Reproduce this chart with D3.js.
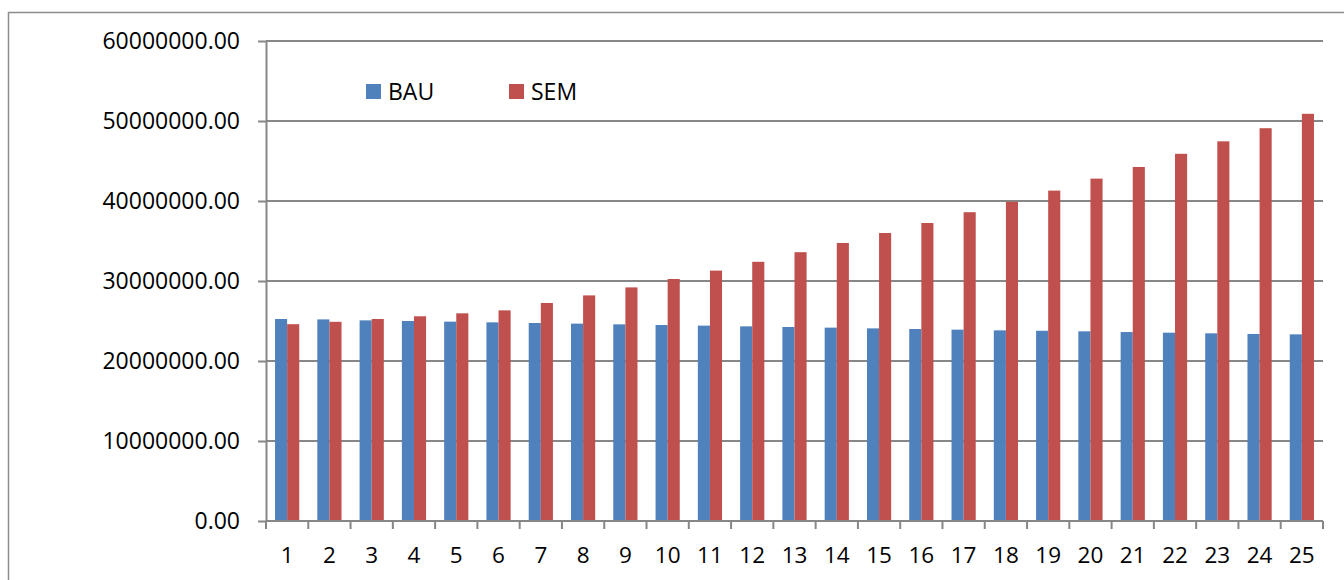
<!DOCTYPE html>
<html>
<head>
<meta charset="utf-8">
<script src="https://cdn.jsdelivr.net/npm/d3@7"></script>
<style>
  html, body { margin: 0; padding: 0; background: #fff; }
  svg { display: block; }
  text { font-family: "Open Sans", "Liberation Sans", sans-serif; fill: #000; }
</style>
</head>
<body>
<svg id="chart" width="1344" height="580"></svg>
<script>
const categories = ["1","2","3","4","5","6","7","8","9","10","11","12","13","14","15","16","17","18","19","20","21","22","23","24","25"];
const seriesNames = ["BAU", "SEM"];
const bauValues = [25250000, 25200000, 25080000, 25000000, 24920000, 24830000, 24750000, 24670000, 24580000, 24500000,
                   24420000, 24330000, 24250000, 24170000, 24080000, 24000000, 23920000, 23830000, 23780000, 23710000,
                   23620000, 23540000, 23460000, 23380000, 23330000];
const semValues = [24600000, 24900000, 25250000, 25590000, 25960000, 26330000, 27250000, 28200000, 29200000, 30250000,
                   31300000, 32400000, 33600000, 34750000, 36000000, 37250000, 38600000, 39900000, 41300000, 42800000,
                   44250000, 45900000, 47460000, 49100000, 50900000];
const yTicks = [0, 10000000, 20000000, 30000000, 40000000, 50000000, 60000000];
const colors = ["#4F81BD", "#C0504D"];

const svg = d3.select("#chart");
const plotLeft = 266, plotRight = 1323, plotTop = 41, plotBottom = 521;

// outer chart border
svg.append("path")
  .attr("d", `M8.5,${590} L8.5,12.5 L1344,12.5`)
  .attr("fill", "none").attr("stroke", "#8c8c8c").attr("stroke-width", 1.5);

const x0 = d3.scaleBand().domain(categories).range([plotLeft, plotRight]).paddingInner(0).paddingOuter(0);
const x1 = d3.scaleBand().domain(seriesNames).range([0, x0.bandwidth()]).paddingInner(0).paddingOuter(0.747);
const y = d3.scaleLinear().domain([0, 60000000]).range([plotBottom, plotTop]);

// gridlines
svg.append("g").selectAll("line").data(yTicks.filter(d => d > 0)).join("line")
  .attr("x1", plotLeft).attr("x2", plotRight)
  .attr("y1", d => y(d)).attr("y2", d => y(d))
  .attr("stroke", "#878787").attr("stroke-width", 2);

// bars
const data = categories.map((c, i) => ({ c, vals: [bauValues[i], semValues[i]] }));
const groups = svg.append("g").selectAll("g").data(data).join("g")
  .attr("transform", d => `translate(${x0(d.c)},0)`);
groups.selectAll("rect").data(d => d.vals.map((v, j) => ({ name: seriesNames[j], v, j }))).join("rect")
  .attr("x", d => x1(d.name))
  .attr("width", x1.bandwidth())
  .attr("y", d => y(d.v))
  .attr("height", d => y(0) - y(d.v))
  .attr("fill", d => colors[d.j]);

// y axis
const yAxis = d3.axisLeft(y).tickValues(yTicks).tickSize(8).tickSizeOuter(0)
  .tickFormat(d => d3.format(".2f")(d));
const gy = svg.append("g").attr("transform", `translate(${plotLeft},0)`).call(yAxis);
gy.select(".domain").attr("stroke", "#878787").attr("stroke-width", 2);
gy.selectAll(".tick line").attr("stroke", "#878787").attr("stroke-width", 2);
gy.selectAll(".tick text").attr("x", -26).attr("font-size", 23)
  .style("font-family", "'Open Sans', sans-serif").attr("fill", "#000");

// x axis
const gx = svg.append("g").attr("transform", `translate(0,${plotBottom})`);
gx.append("line").attr("x1", plotLeft).attr("x2", plotRight).attr("y1", 0).attr("y2", 0)
  .attr("stroke", "#878787").attr("stroke-width", 2);
const boundaries = categories.map(c => x0(c)).concat([x0(categories[categories.length - 1]) + x0.bandwidth()]);
gx.selectAll("line.tk").data(boundaries).join("line").attr("class", "tk")
  .attr("x1", d => d).attr("x2", d => d).attr("y1", 0).attr("y2", 8)
  .attr("stroke", "#878787").attr("stroke-width", 2);
gx.selectAll("text").data(categories).join("text")
  .attr("x", d => x0(d) + x0.bandwidth() / 2)
  .attr("y", 34)
  .attr("dy", "0.35em")
  .attr("text-anchor", "middle")
  .attr("font-size", 22.5)
  .text(d => d);

// legend
const legendPos = [366, 509];
const lg = svg.append("g").selectAll("g").data(seriesNames).join("g")
  .attr("transform", (d, i) => `translate(${legendPos[i]},84)`);
lg.append("rect").attr("width", 15).attr("height", 15).attr("fill", (d, i) => colors[i]);
lg.append("text").attr("x", 22).attr("y", 7.5).attr("dy", "0.35em")
  .attr("font-size", 23).text(d => d);
</script>
</body>
</html>
